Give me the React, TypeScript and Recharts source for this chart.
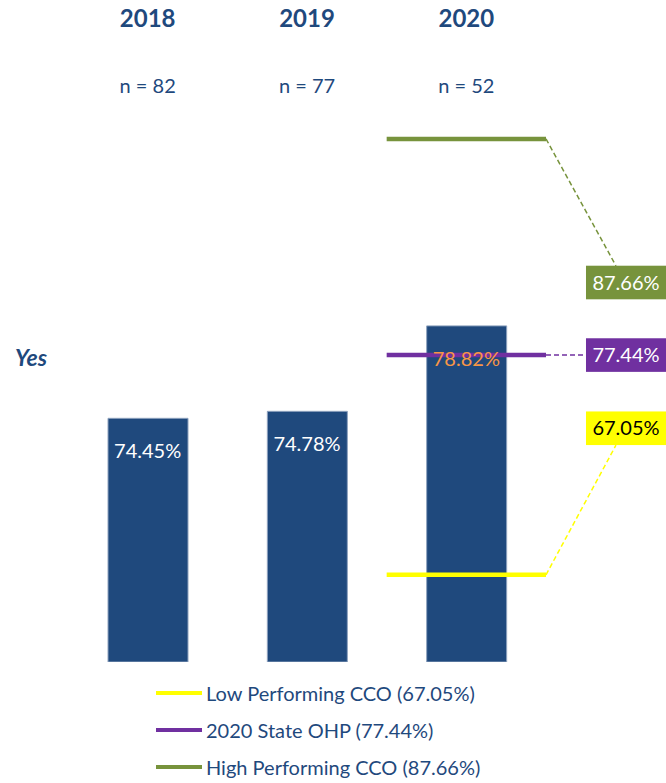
import {
  Bar,
  ComposedChart,
  Legend,
  ReferenceDot,
  ReferenceLine,
  Scatter,
  XAxis,
  YAxis,
} from "recharts";

const years = ["2018", "2019", "2020"];
const nCounts = [82, 77, 52];
const yesRates = [74.45, 74.78, 78.82];

const benchmarkNames = ["Low Performing CCO", "2020 State OHP", "High Performing CCO"];
const benchmarkValues = [67.05, 77.44, 87.66];

const NAVY = "#1F497D";
const benchmarkColors = ["#FFFF00", "#7030A0", "#77933C"];
const boxTextColors = ["#000000", "#FFFFFF", "#FFFFFF"];

// right-hand value boxes (value units) and where the dashed leaders meet them
const boxCenters = [73.98, 77.44, 80.87];
const leaderEnds = [
  { x: 3.439, y: 73.18 },
  { x: 3.251, y: 77.44 },
  { x: 3.439, y: 81.66 },
];

// each year sits in the middle of its slot on the x axis
const chartData = years.map((year, i) => ({ pos: i + 0.5, year, yes: yesRates[i] }));
const yearTicks = chartData.map((d) => d.pos);

function YearTick(props: any) {
  const { x, index } = props;
  return (
    <g>
      <text x={x} y={26.5} textAnchor="middle" fontSize={24} fontWeight="bold" fill={NAVY}>
        {years[index]}
      </text>
      <text x={x} y={93.3} textAnchor="middle" fontSize={20} fill={NAVY}>
        n = {nCounts[index]}
      </text>
    </g>
  );
}

function YesLabel(props: any) {
  const vb = props.viewBox || {};
  return (
    <text x={15} y={vb.y + vb.height / 2 + 8.5} fontSize={23} fontWeight="bold" fontStyle="italic" fill={NAVY}>
      Yes
    </text>
  );
}

// bar value labels, drawn after the benchmark lines so they sit on top
function BarValue(props: any) {
  const { cx, cy, payload, index } = props;
  return (
    <text
      x={cx}
      y={cy + 40}
      textAnchor="middle"
      fontSize={20}
      fill={index === 2 ? "#F79646" : "#FFFFFF"}
    >
      {Number(payload.yes).toFixed(2)}%
    </text>
  );
}

function renderLegend() {
  return (
    <div style={{ height: 121, paddingTop: 12, boxSizing: "border-box" }}>
      {benchmarkNames.map((name, i) => (
        <div key={name} style={{ height: 37.3, display: "flex", alignItems: "center" }}>
          <div style={{ marginLeft: 156, width: 46, height: 4, background: benchmarkColors[i] }} />
          <span style={{ marginLeft: 4, fontSize: 20, color: NAVY, lineHeight: "22px" }}>
            {name} ({benchmarkValues[i].toFixed(2)}%)
          </span>
        </div>
      ))}
    </div>
  );
}

export default function App() {
  return (
    <div style={{ position: "absolute", left: 0, top: 0, fontFamily: "Lato" }}>
      <ComposedChart
        width={666}
        height={783}
        data={chartData}
        margin={{ top: 0, right: 0, bottom: 0, left: 0 }}
      >
        <XAxis
          dataKey="pos"
          type="number"
          domain={[0, 3.7531]}
          allowDataOverflow
          ticks={yearTicks}
          orientation="top"
          height={53}
          axisLine={false}
          tickLine={false}
          interval={0}
          tick={<YearTick />}
        />
        <YAxis
          type="number"
          domain={[62.93, 91.72]}
          allowDataOverflow
          width={68}
          axisLine={false}
          tickLine={false}
          tick={false}
          label={<YesLabel />}
        />
        <Bar
          dataKey="yes"
          fill={NAVY}
          stroke="#8EA2BE"
          strokeWidth={1}
          barSize={80}
          isAnimationActive={false}
        />
        {benchmarkValues.map((v, i) => (
          <ReferenceLine
            key={`seg-${i}`}
            segment={[
              { x: 2, y: v },
              { x: 3, y: v },
            ]}
            stroke={benchmarkColors[i]}
            strokeWidth={4.5}
            ifOverflow="visible"
          />
        ))}
        {benchmarkValues.map((v, i) => (
          <ReferenceLine
            key={`lead-${i}`}
            segment={[
              { x: 3, y: v },
              { x: leaderEnds[i].x, y: leaderEnds[i].y },
            ]}
            stroke={benchmarkColors[i]}
            strokeWidth={1.5}
            strokeDasharray="5 3"
            ifOverflow="visible"
          />
        ))}
        {benchmarkValues.map((v, i) => (
          <ReferenceDot
            key={`box-${i}`}
            x={3.502}
            y={boxCenters[i]}
            ifOverflow="visible"
            shape={(p: any) => (
              <g>
                <rect x={p.cx - 40} y={p.cy - 16.8} width={80} height={33.6} fill={benchmarkColors[i]} />
                <text x={p.cx} y={p.cy + 7} textAnchor="middle" fontSize={20} fill={boxTextColors[i]}>
                  {v.toFixed(2)}%
                </text>
              </g>
            )}
          />
        ))}
        <Scatter dataKey="yes" shape={<BarValue />} isAnimationActive={false} />
        <Legend verticalAlign="bottom" content={renderLegend} wrapperStyle={{ left: 0, width: 666 }} />
      </ComposedChart>
    </div>
  );
}
